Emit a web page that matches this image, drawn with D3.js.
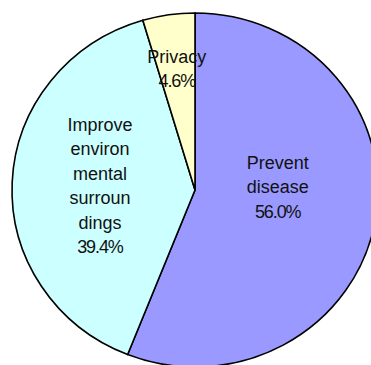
<!DOCTYPE html>
<html>
<head>
<meta charset="utf-8">
<script src="https://cdn.jsdelivr.net/npm/d3@7"></script>
<style>
  html, body { margin: 0; padding: 0; background: #ffffff; }
  svg { display: block; }
  .slice-label { font-family: "Liberation Sans", Arial, sans-serif; font-size: 18px; fill: #111; }
  .slice-label .pct { letter-spacing: -1.1px; }
</style>
</head>
<body>
<script>
// Share of answers per reason, drawn clockwise from 12 o'clock
const categories = ["Prevent disease", "Improve environmental surroundings", "Privacy"];
const labelLines = [["Prevent", "disease"], ["Improve", "environ", "mental", "surroun", "dings"], ["Privacy"]];
const values = [56.0, 39.4, 4.6];
const colors = ["#9999ff", "#ccffff", "#ffffcc"];
// radial position of each label as a fraction of the radius, plus vertical nudge
const labelRadius = [0.46, 0.52, 0.69];
const labelShift = [-18, 0, 0];

const width = 371, height = 365;
const cx = 195, cy = 190, rx = 183, ry = 177;

const svg = d3.select("body").append("svg")
  .attr("width", width).attr("height", height);

const pie = d3.pie().sort(null).value(d => d.value);
const arcs = pie(values.map((v, i) => ({ value: v, i })));

const arc = d3.arc().innerRadius(0).outerRadius(ry);

// slightly wider than tall, so scale the pie horizontally
const g = svg.append("g")
  .attr("transform", `translate(${cx},${cy}) scale(${rx / ry},1)`);

g.selectAll("path.slice")
  .data(arcs)
  .join("path")
  .attr("class", "slice")
  .attr("d", arc)
  .attr("fill", d => colors[d.data.i])
  .attr("stroke", "#000")
  .attr("stroke-width", 1.6)
  .attr("stroke-linejoin", "miter")
  .attr("vector-effect", "non-scaling-stroke");

const lineH = 24.4;
const labels = svg.append("g").attr("class", "slice-label");

arcs.forEach(d => {
  const i = d.data.i;
  const mid = (d.startAngle + d.endAngle) / 2;
  const k = labelRadius[i];
  const x = cx + rx * k * Math.sin(mid);
  const y = cy - ry * k * Math.cos(mid) + labelShift[i];
  const lines = labelLines[i].concat([d3.format(".1f")(values[i]) + "%"]);
  const n = lines.length;
  const t = labels.append("text")
    .attr("text-anchor", "middle")
    .attr("x", x)
    .attr("y", y - (n - 1) * lineH / 2 + 6);
  lines.forEach((s, j) => {
    t.append("tspan")
      .attr("x", x)
      .attr("dy", j === 0 ? 0 : lineH)
      .attr("class", j === n - 1 ? "pct" : null)
      .text(s);
  });
});
</script>
</body>
</html>
